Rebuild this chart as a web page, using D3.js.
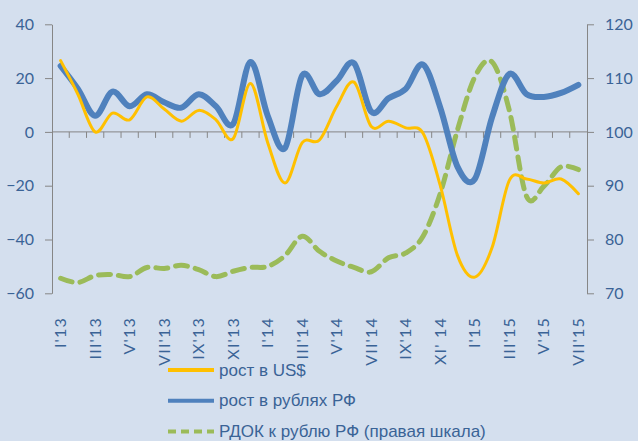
<!DOCTYPE html>
<html>
<head>
<meta charset="utf-8">
<script src="https://cdn.jsdelivr.net/npm/d3@7"></script>
<style>
  body { margin: 0; background: #d4dfee; }
  svg { display: block; }
  text { fill: #3a6396; }
</style>
</head>
<body>
<svg id="chart" width="638" height="441"></svg>
<script>
var months = d3.range(31)
var monthLabels = ["I'13", "III'13", "V'13", "VII'13", "IX'13", "XI'13", "I'14", "III'14",
    "V'14", "VII'14", "IX'14", "XI' 14", "I'15", "III'15", "V'15", "VII'15"]

// рост в US$
var usd = [26.5, 14, 0, 7, 4.5, 13, 8.5, 4, 8, 4.5, -2.5, 18, -4, -19, -4, -3,
    9.5, 18.5, 2, 4, 1.5, -0.5, -20, -46, -54, -43, -18, -17.5, -19, -17.5, -23]

// рост в рублях РФ
var rub = [24.5, 16, 6, 15, 9.5, 14, 11, 9, 14, 9.5, 3, 26, 6, -6, 21, 14,
    19, 25.5, 7.5, 12.5, 16, 25, 9, -13, -17.5, 5.5, 21.5, 14, 13, 14.5, 17.5]

// РДОК к рублю РФ (правая шкала)
var rdok = [72.8, 72, 73.3, 73.5, 73.1, 74.8, 74.6, 75.2, 74.4, 73.1, 74.1, 74.8, 75, 77, 80.6, 77.8,
    76, 74.8, 74, 76.6, 77.5, 80.6, 88.6, 100.4, 110.2, 113, 104, 88, 89.9, 93.5, 93]

var legendNames = ["рост в US$", "рост в рублях РФ", "РДОК к рублю РФ (правая шкала)"]

var svg = d3.select("svg#chart"),
    plotLeft = 52, plotRight = 587, plotTop = 24.3, plotBottom = 293.3

var x = d3.scaleBand().domain(months).range([plotLeft, plotRight])
var y = d3.scaleLinear().domain([-60, 40]).range([plotBottom, plotTop])
var y2 = d3.scaleLinear().domain([70, 120]).range([plotBottom, plotTop])

var axisColor = "#868686"
var fontTicks = "Lato, 'Open Sans', sans-serif"

// left axis
var gl = svg.append("g").attr("transform", "translate(" + plotLeft + ",0)")
    .call(d3.axisLeft(y).tickValues([-60, -40, -20, 0, 20, 40]).tickSize(7).tickSizeOuter(0).tickPadding(11))
gl.selectAll("path,line").attr("stroke", axisColor)
gl.selectAll("text").style("font-family", fontTicks).style("font-size", "16px").attr("fill", "#3a6396")

// right axis
var gr = svg.append("g").attr("transform", "translate(" + plotRight + ",0)")
    .call(d3.axisRight(y2).tickValues([70, 80, 90, 100, 110, 120]).tickSize(7).tickSizeOuter(0).tickPadding(11))
gr.selectAll("path,line").attr("stroke", axisColor)
gr.selectAll("text").style("font-family", fontTicks).style("font-size", "16px").attr("fill", "#3a6396")

// horizontal zero line with ticks between months
svg.append("line").attr("x1", plotLeft).attr("x2", plotRight).attr("y1", y(0)).attr("y2", y(0))
    .attr("stroke", axisColor)
svg.append("g").selectAll("line").data(d3.range(1, 31)).join("line")
    .attr("x1", function (d) { return plotLeft + d * x.step() })
    .attr("x2", function (d) { return plotLeft + d * x.step() })
    .attr("y1", y(0)).attr("y2", y(0) + 6)
    .attr("stroke", axisColor)

// category labels
svg.append("g").selectAll("text").data(monthLabels).join("text")
    .attr("transform", function (d, i) {
        return "translate(" + (x(i * 2) + x.bandwidth() / 2 + 5.5) + ",317) rotate(-90)"
    })
    .attr("text-anchor", "end")
    .style("font-family", fontTicks).style("font-size", "16px").style("letter-spacing", "1.2px")
    .text(function (d) { return d })

var curve = d3.curveCardinal.tension(0)
function cx(d, i) { return x(i) + x.bandwidth() / 2 }

var lineL = d3.line().x(cx).y(function (d) { return y(d) }).curve(curve)
var lineR = d3.line().x(cx).y(function (d) { return y2(d) }).curve(curve)

svg.append("path").attr("d", lineR(rdok)).attr("fill", "none")
    .attr("stroke", "#9bbb59").attr("stroke-width", 5).attr("stroke-dasharray", "12,8")
    .attr("stroke-linecap", "round")
svg.append("path").attr("d", lineL(rub)).attr("fill", "none")
    .attr("stroke", "#4f81bd").attr("stroke-width", 6).attr("stroke-linecap", "round")
    .attr("stroke-linejoin", "round")
svg.append("path").attr("d", lineL(usd)).attr("fill", "none")
    .attr("stroke", "#ffc000").attr("stroke-width", 3).attr("stroke-linecap", "round")

// legend
var legendStyles = [
    { color: "#ffc000", w: 4, dash: null },
    { color: "#4f81bd", w: 4, dash: null },
    { color: "#9bbb59", w: 4, dash: "8,5" }
]
var lg = svg.append("g")
legendNames.forEach(function (name, i) {
    var ly = 370 + i * 30.8
    lg.append("line").attr("x1", 168).attr("x2", 214).attr("y1", ly).attr("y2", ly)
        .attr("stroke", legendStyles[i].color).attr("stroke-width", legendStyles[i].w)
        .attr("stroke-dasharray", legendStyles[i].dash)
    lg.append("text").attr("x", 219).attr("y", ly + 5.5)
        .style("font-family", "'Liberation Sans Narrow', 'Arial Narrow', sans-serif")
        .style("font-size", "17px")
        .text(name)
})
</script>
</body>
</html>
